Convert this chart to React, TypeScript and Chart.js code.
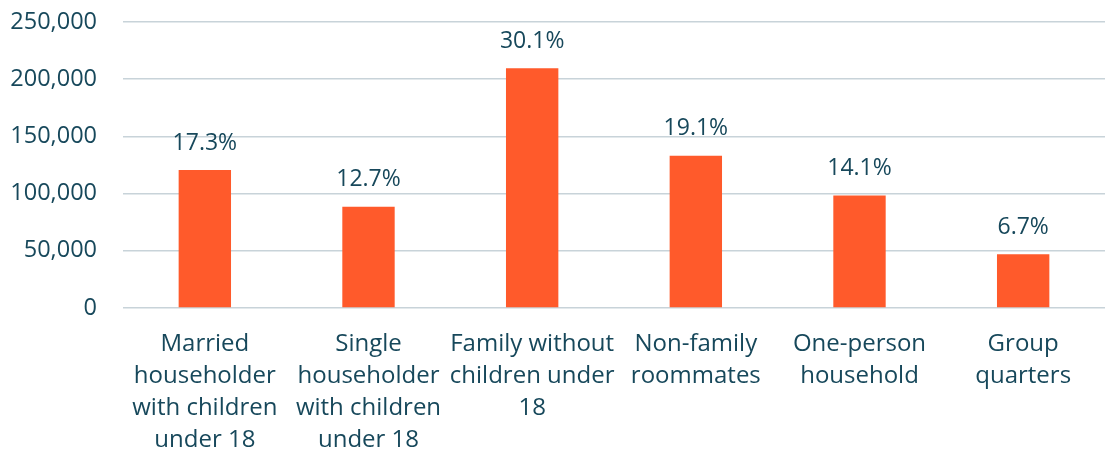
import React, { useEffect, useRef } from "react";
import { Chart, registerables } from "chart.js";

Chart.register(...registerables);

const categories: string[][] = [
  ["Married", "householder", "with children", "under 18"],
  ["Single", "householder", "with children", "under 18"],
  ["Family without", "children under", "18"],
  ["Non-family", "roommates"],
  ["One-person", "household"],
  ["Group", "quarters"],
];
const values: number[] = [120600, 88400, 209600, 133100, 98300, 46900];
const percentLabels: string[] = ["17.3%", "12.7%", "30.1%", "19.1%", "14.1%", "6.7%"];
const yTicks: number[] = [0, 50000, 100000, 150000, 200000, 250000];

const TEXT = "#17485B";
const FONT = "'Open Sans', sans-serif";

const labelPlugin = {
  id: "pctLabels",
  afterDatasetsDraw(chart: any) {
    const ctx = chart.ctx;
    const meta = chart.getDatasetMeta(0);
    ctx.save();
    ctx.font = `23px ${FONT}`;
    ctx.fillStyle = TEXT;
    ctx.textAlign = "center";
    ctx.textBaseline = "middle";
    meta.data.forEach((bar: any, i: number) => {
      ctx.fillText(percentLabels[i], bar.x, bar.y - 27);
    });
    ctx.restore();
  },
};

export default function App() {
  const ref = useRef<HTMLCanvasElement>(null);
  useEffect(() => {
    document.body.style.margin = "0";
    if (!ref.current) return;
    const chart = new Chart(ref.current, {
      type: "bar",
      data: {
        labels: categories,
        datasets: [
          {
            data: values,
            backgroundColor: "#FF5A2B",
            borderWidth: 0,
            barPercentage: 0.32,
            categoryPercentage: 1,
          },
        ],
      },
      options: {
        animation: false,
        responsive: false,
        layout: { padding: { top: 22, right: 0, left: 0, bottom: 0 } },
        plugins: { legend: { display: false }, tooltip: { enabled: false } },
        scales: {
          x: {
            grid: { display: false },
            border: { display: false },
            ticks: {
              color: TEXT,
              font: { family: FONT, size: 24, lineHeight: 1.333 },
              padding: 12,
              maxRotation: 0,
              autoSkip: false,
            },
            afterFit(scale: any) {
              scale.height = 145;
              scale.paddingLeft = 0;
              scale.paddingRight = 0;
              scale.paddingTop = 0;
              scale.paddingBottom = 0;
            },
          },
          y: {
            min: 0,
            max: 250000,
            afterBuildTicks(scale: any) {
              scale.ticks = yTicks.map((v) => ({ value: v }));
            },
            grid: { color: "#C8D3D9", lineWidth: 1.5, drawTicks: false },
            border: { display: false },
            ticks: {
              color: TEXT,
              font: { family: FONT, size: 23.5 },
              padding: 26,
              callback: (v: any) => Number(v).toLocaleString("en-US"),
            },
            afterFit(scale: any) {
              scale.width = 123;
              scale.paddingTop = 0;
              scale.paddingBottom = 0;
            },
          },
        },
      },
      plugins: [labelPlugin],
    });
    return () => chart.destroy();
  }, []);
  return <canvas ref={ref} width={1105} height={453} />;
}
